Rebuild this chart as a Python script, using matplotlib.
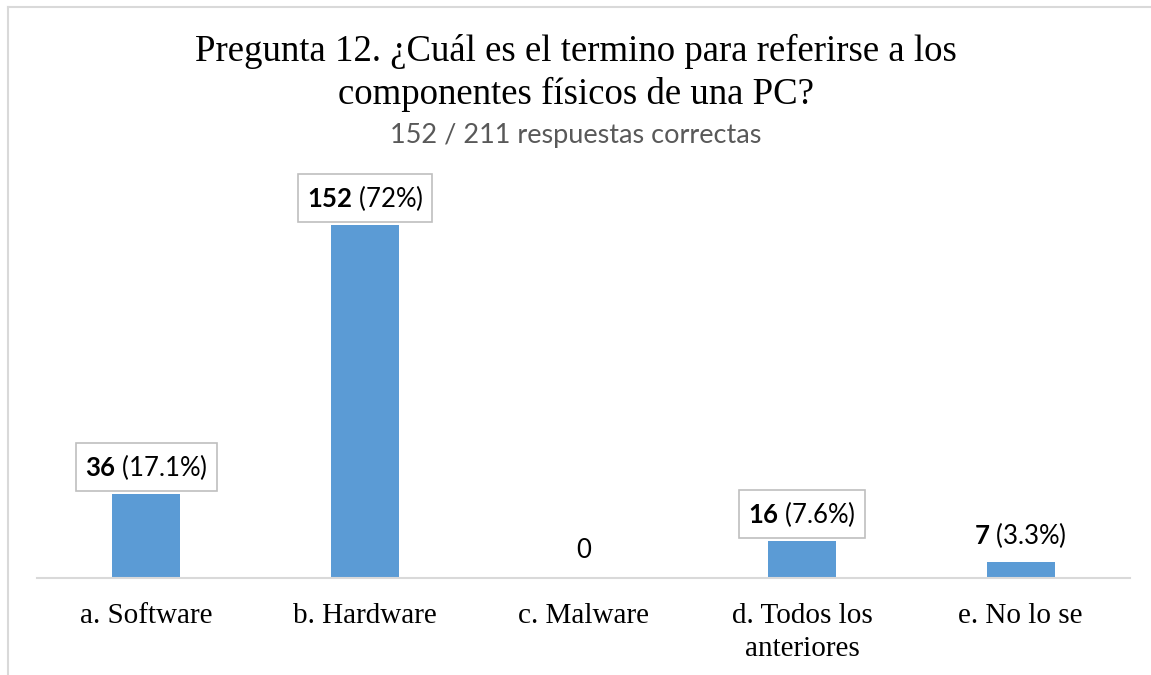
import matplotlib
matplotlib.use("Agg")
import matplotlib.pyplot as plt
from matplotlib.lines import Line2D

categories = ["a. Software", "b. Hardware", "c. Malware", "d. Todos los\nanteriores", "e. No lo se"]
counts = [36, 152, 0, 16, 7]
percents = ["17.1%", "72%", None, "7.6%", "3.3%"]
boxed = [True, True, False, True, False]

title = "Pregunta 12. ¿Cuál es el termino para referirse a los\ncomponentes físicos de una PC?"
subtitle = "152 / 211 respuestas correctas"

plt.rcParams["mathtext.fontset"] = "custom"
plt.rcParams["mathtext.bf"] = "Lato:bold"

W, H = 1151, 675
fig = plt.figure(figsize=(W / 100, H / 100), dpi=100)
fig.patch.set_facecolor("white")

ax = fig.add_axes([37 / W, 1 - 578 / H, (1130 - 37) / W, (578 - 180) / H])
x = list(range(len(categories)))
ax.bar(x, counts, width=0.31, color="#5B9BD5", zorder=2)
ax.set_xlim(-0.5, len(categories) - 0.5)
ax.set_ylim(0, 171.4)
for s in ["top", "right", "left"]:
    ax.spines[s].set_visible(False)
ax.spines["bottom"].set_color("#d9d9d9")
ax.spines["bottom"].set_linewidth(1.5)
ax.set_yticks([])
ax.set_xticks(x)
ax.set_xticklabels(categories, family="Liberation Serif", fontsize=21, linespacing=1.35)
ax.tick_params(axis="x", length=0, pad=18)

lab_font = "Lato"
for xi, c, p, b in zip(x, counts, percents, boxed):
    if p is None:
        ax.annotate(str(c), (xi, c), xytext=(0, 27), textcoords="offset pixels",
                    ha="center", va="center", fontsize=18.5, family=lab_font, color="black")
        continue
    bbox = dict(boxstyle="square,pad=0.35", fc="white", ec="#bfbfbf", lw=1.2) if b else None
    t = ax.annotate(f"$\\bf{{{c}}}$ ({p})", (xi, c), xytext=(0, 27), textcoords="offset pixels",
                    ha="center", va="center", fontsize=18.5, color="black", bbox=bbox)
    t.set_family(lab_font)

fig.text(0.5, 1 - 73 / H, title, ha="center", va="center", family="Liberation Serif",
         fontsize=26.5, linespacing=1.28, color="black")
fig.text(0.5, 1 - 136 / H, subtitle, ha="center", va="center", family="Lato",
         fontsize=19.5, color="#595959")

fig.add_artist(Line2D([8 / W, 1], [1 - 7 / H, 1 - 7 / H], transform=fig.transFigure, color="#d9d9d9", lw=1.5))
fig.add_artist(Line2D([8 / W, 8 / W], [0, 1 - 7 / H], transform=fig.transFigure, color="#d9d9d9", lw=1.5))

fig.savefig("out.png", dpi=100, facecolor="white")
